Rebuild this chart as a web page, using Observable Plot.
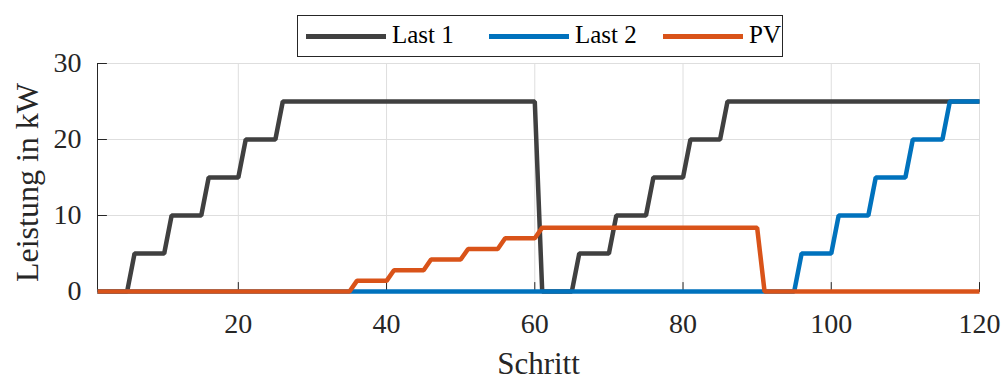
<!DOCTYPE html>
<html>
<head>
<meta charset="utf-8">
<script src="https://cdn.jsdelivr.net/npm/d3@7"></script>
<script src="https://cdn.jsdelivr.net/npm/@observablehq/plot@0.6"></script>
<style>
  html, body { margin: 0; padding: 0; background: #fff; }
  #wrap { position: relative; width: 1002px; height: 379px; }
  #legend {
    position: absolute; left: 297px; top: 15px; width: 484px; height: 40px;
    border: 1px solid #262626; background: #fff; box-sizing: content-box;
    font-family: "Liberation Serif", "Times New Roman", serif; font-size: 25px; color: #000;
  }
  .item { position: absolute; top: 0; height: 40px; }
  .item .swatch { position: absolute; top: 18px; width: 80px; height: 5px; }
  .item .lab { position: absolute; left: 86px; top: 4px; line-height: 30px; white-space: nowrap; }
</style>
</head>
<body>
<div id="wrap"></div>
<script>
// Series names and colours
const seriesNames = ["Last 1", "Last 2", "PV"];
const seriesColors = ["#404040", "#0072BD", "#D95319"];

// Breakpoints (Schritt, Leistung in kW)
const last1Steps  = [1, 5, 6, 10, 11, 15, 16, 20, 21, 25, 26, 60, 61, 65, 66, 70, 71, 75, 76, 80, 81, 85, 86, 120];
const last1Values = [0, 0, 5, 5, 10, 10, 15, 15, 20, 20, 25, 25, 0, 0, 5, 5, 10, 10, 15, 15, 20, 20, 25, 25];

const last2Steps  = [1, 95, 96, 100, 101, 105, 106, 110, 111, 115, 116, 120];
const last2Values = [0, 0, 5, 5, 10, 10, 15, 15, 20, 20, 25, 25];

const pvSteps  = [1, 35, 36, 40, 41, 45, 46, 50, 51, 55, 56, 60, 61, 90, 91, 120];
const pvValues = [0, 0, 1.4, 1.4, 2.8, 2.8, 4.2, 4.2, 5.6, 5.6, 7.0, 7.0, 8.4, 8.4, 0, 0];

// Ticks
const xTicks = [20, 40, 60, 80, 100, 120];
const yTicks = [0, 10, 20, 30];
const xDomain = [1, 120];
const yDomain = [0, 30];

const toRows = (steps, values, name) => steps.map((s, i) => ({step: s, value: values[i], series: name}));
const rows = [
  ...toRows(last1Steps, last1Values, seriesNames[0]),
  ...toRows(last2Steps, last2Values, seriesNames[1]),
  ...toRows(pvSteps, pvValues, seriesNames[2])
];

const axisColor = "#262626";
const gridColor = "#dedede";
const font = "'Liberation Serif', 'Times New Roman', serif";
const tickShape = {draw(context, l) { context.moveTo(0, 0); context.lineTo(0, -l); }};

const plot = Plot.plot({
  width: 1002,
  height: 379,
  marginLeft: 97,
  marginRight: 23,
  marginTop: 63,
  marginBottom: 88,
  style: {fontFamily: font, background: "#fff", overflow: "visible"},
  x: {domain: xDomain},
  y: {domain: yDomain},
  color: {domain: seriesNames, range: seriesColors},
  marks: [
    Plot.gridX(xTicks, {stroke: gridColor, strokeOpacity: 1, strokeWidth: 1}),
    Plot.gridY(yTicks.filter(d => d > 0), {stroke: gridColor, strokeOpacity: 1, strokeWidth: 1}),
    Plot.ruleX([xDomain[0]], {stroke: axisColor, strokeWidth: 1}),
    Plot.ruleY([yDomain[0]], {stroke: axisColor, strokeWidth: 1}),
    Plot.vector(yTicks, {y: d => d, frameAnchor: "left", rotate: 90, length: 9, anchor: "start", shape: tickShape, stroke: axisColor, strokeWidth: 1}),
    Plot.vector(xTicks, {x: d => d, frameAnchor: "bottom", rotate: 0, length: 9, anchor: "start", shape: tickShape, stroke: axisColor, strokeWidth: 1}),
    Plot.axisX({ticks: xTicks, tickSize: 0, tickPadding: 22, fontSize: 28, color: axisColor,
      label: "Schritt", labelAnchor: "center", labelArrow: "none", labelOffset: 82}),
    Plot.axisY({ticks: yTicks, tickSize: 0, tickPadding: 16, fontSize: 28, color: axisColor,
      label: "Leistung in kW", labelAnchor: "center", labelArrow: "none", labelOffset: 82}),
    Plot.line(rows, {x: "step", y: "value", z: "series", stroke: "series", strokeWidth: 4.5,
      strokeLinejoin: "miter", strokeLinecap: "butt"})
  ]
});

// Axis label fonts
plot.querySelectorAll("g[aria-label='x-axis label'] text").forEach(t => {
  t.setAttribute("font-size", 31);
  t.style.fontSize = "31px";
  t.setAttribute("fill", axisColor);
});
plot.querySelectorAll("g[aria-label='y-axis label'] text").forEach(t => {
  t.setAttribute("font-size", 32);
  t.style.fontSize = "32px";
  t.setAttribute("fill", axisColor);
  t.setAttribute("dx", -5);
});

const wrap = document.getElementById("wrap");
wrap.appendChild(plot);

// Legend
const legend = document.createElement("div");
legend.id = "legend";
const itemLefts = [8, 191, 365];
seriesNames.forEach((name, i) => {
  const it = document.createElement("div");
  it.className = "item";
  it.style.left = itemLefts[i] + "px";
  const sw = document.createElement("div");
  sw.className = "swatch";
  sw.style.background = seriesColors[i];
  const lab = document.createElement("div");
  lab.className = "lab";
  lab.textContent = name;
  it.appendChild(sw);
  it.appendChild(lab);
  legend.appendChild(it);
});
wrap.appendChild(legend);
</script>
</body>
</html>
